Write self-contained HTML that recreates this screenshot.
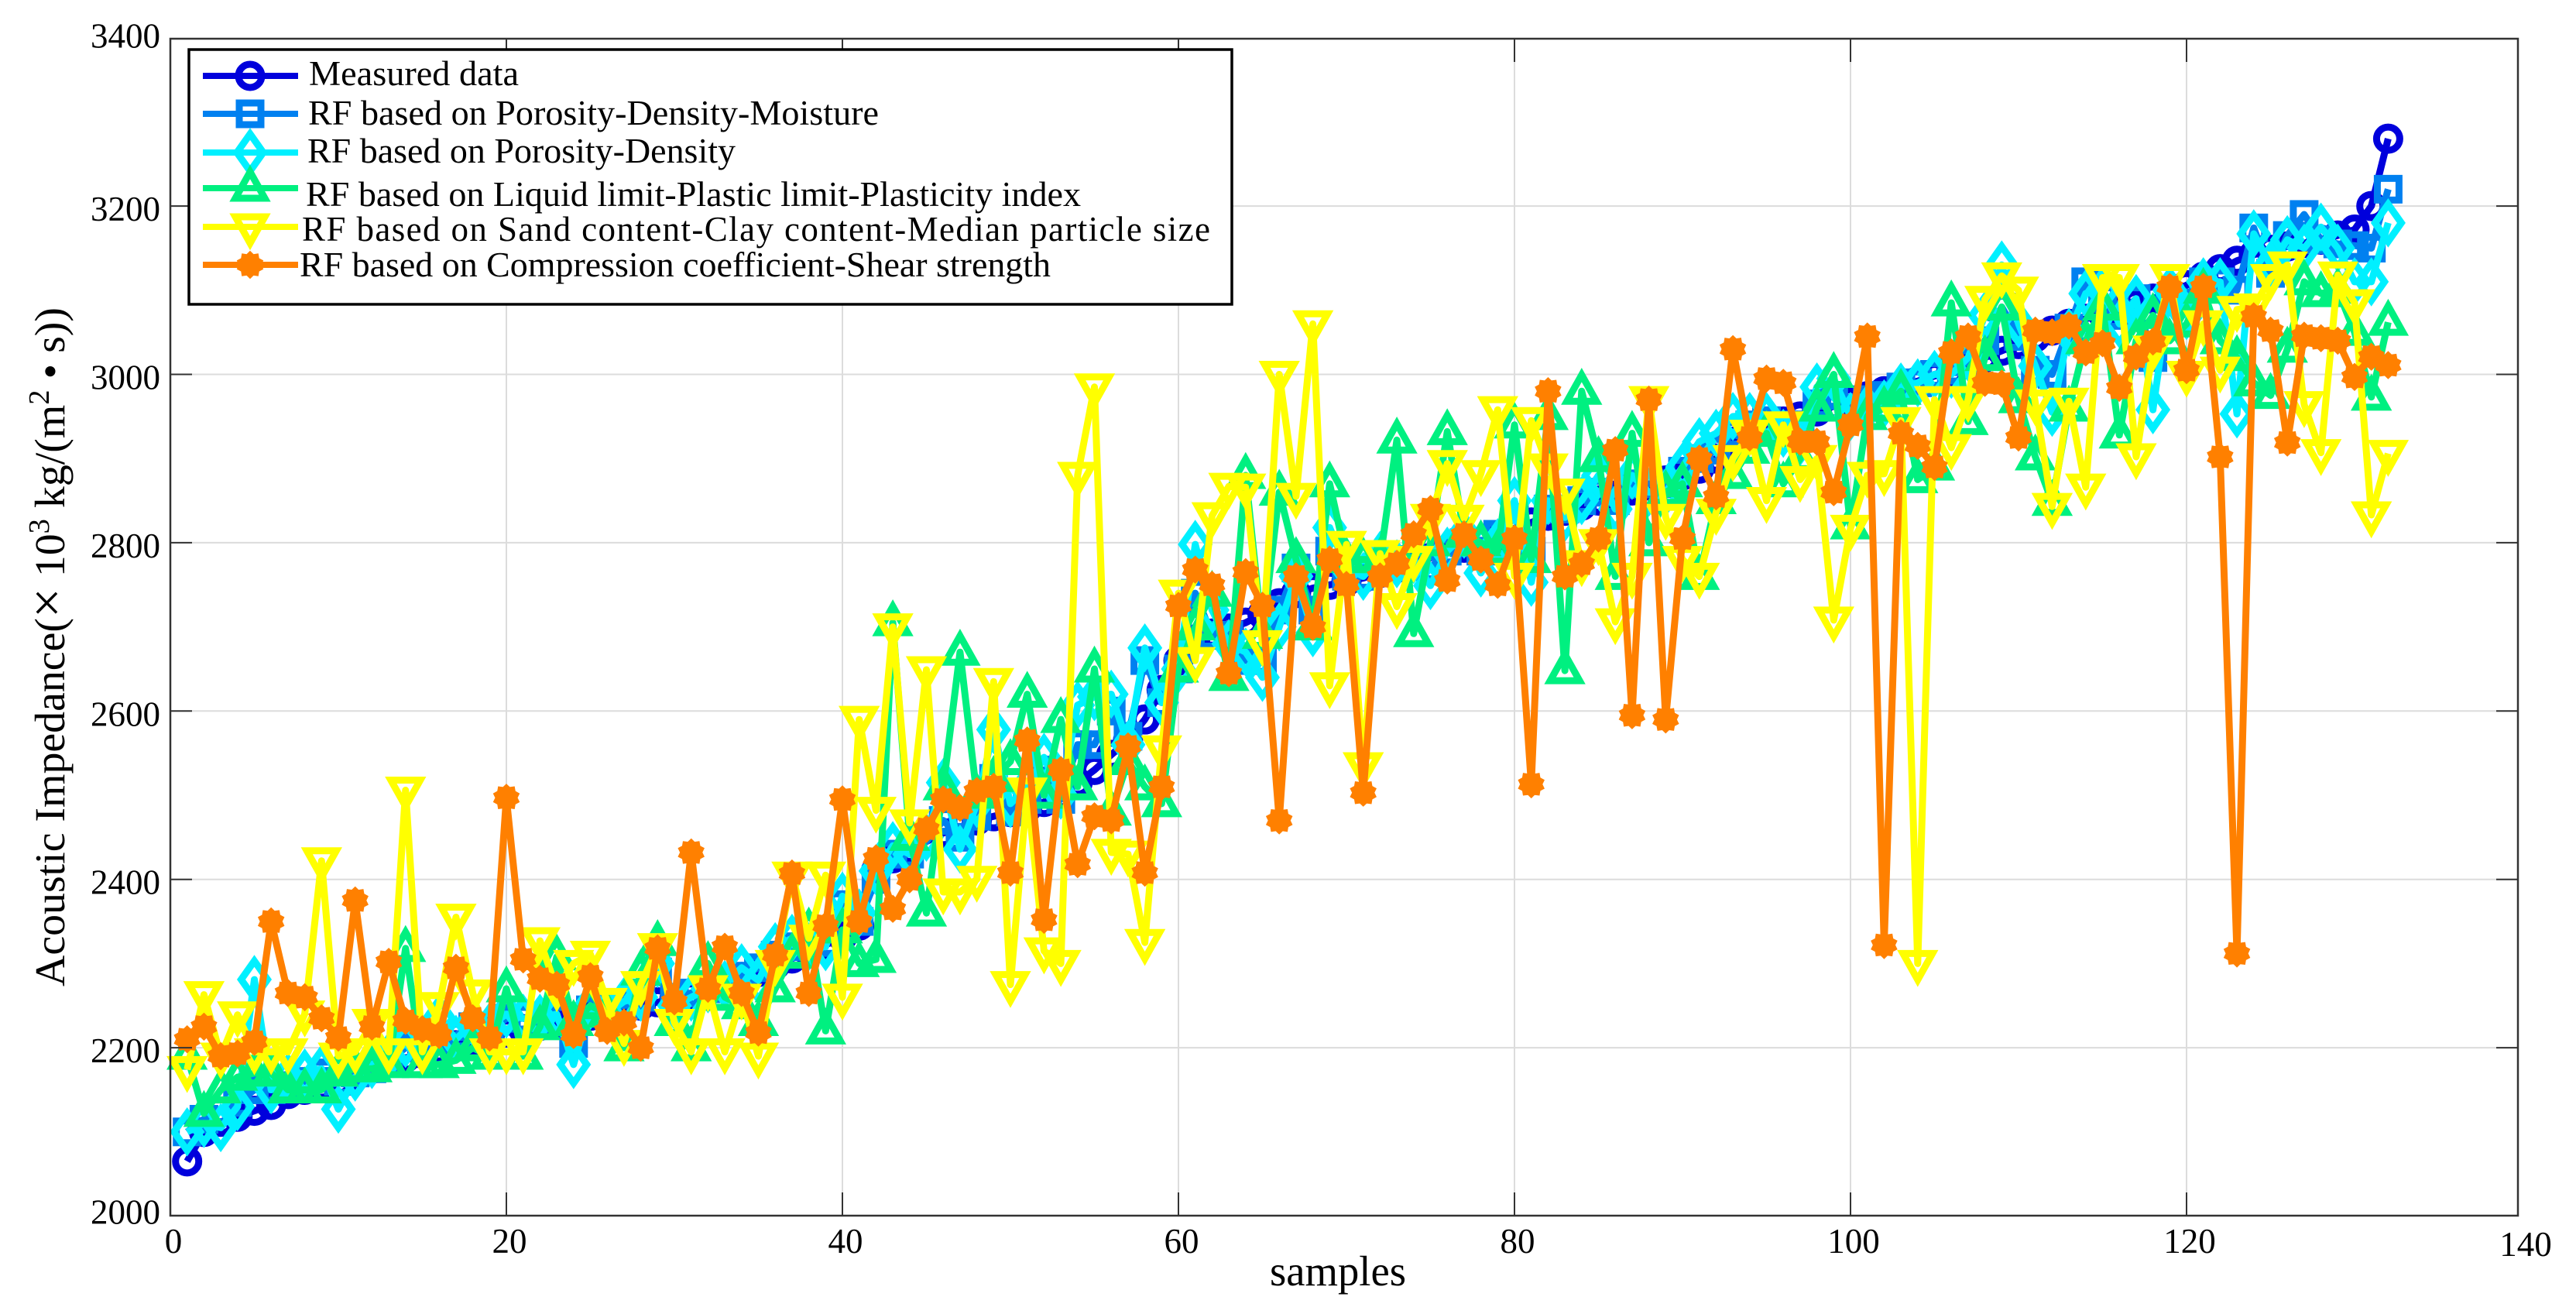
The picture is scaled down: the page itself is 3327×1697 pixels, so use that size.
<!DOCTYPE html>
<html>
<head>
<meta charset="utf-8">
<title>Acoustic Impedance chart</title>
<style>
html,body{margin:0;padding:0;background:#fff;}
svg{display:block;}
text{font-family:"Liberation Serif","Noto Serif CJK SC",serif;fill:#000;}
</style>
</head>
<body>
<svg id="chart" xmlns="http://www.w3.org/2000/svg" width="3327" height="1697" viewBox="0 0 3327 1697">
  <rect x="0" y="0" width="3327" height="1697" fill="#ffffff"/>
  <g id="grid"></g>
  <g id="series"></g>
  <g id="axes"></g>
  <text x="1640" y="1660" font-size="55" textLength="176" lengthAdjust="spacingAndGlyphs">samples</text>
  <text transform="translate(83 1274) rotate(-90)" font-size="55" textLength="877" lengthAdjust="spacingAndGlyphs">Acoustic Impedance(<tspan font-size="68">×</tspan> 10<tspan dy="-20" font-size="38">3</tspan><tspan dy="20"> kg/(m</tspan><tspan dy="-20" font-size="38">2</tspan><tspan dy="20"> • s))</tspan></text>
  <g id="legend">
    <rect x="244" y="64" width="1347" height="329" fill="#ffffff" stroke="#000000" stroke-width="3.5"/>
    <g id="legend-keys"></g>
    <text x="399" y="110" font-size="45" textLength="271" lengthAdjust="spacingAndGlyphs">Measured data</text>
    <text x="398" y="161" font-size="45" textLength="737" lengthAdjust="spacingAndGlyphs">RF based on Porosity-Density-Moisture</text>
    <text x="397" y="210" font-size="45" textLength="553" lengthAdjust="spacingAndGlyphs">RF based on Porosity-Density</text>
    <text x="395" y="266" font-size="45" textLength="1001" lengthAdjust="spacingAndGlyphs">RF based on Liquid limit-Plastic limit-Plasticity index</text>
    <text x="390" y="311" font-size="45" textLength="1173" lengthAdjust="spacing">RF based on Sand content-Clay content-Median particle size</text>
    <text x="387" y="357" font-size="45" textLength="970" lengthAdjust="spacingAndGlyphs">RF based on Compression coefficient-Shear strength</text>
  </g>
</svg>
<script>
const xTicks = [0,20,40,60,80,100,120,140];
const yTicks = [2000,2200,2400,2600,2800,3000,3200,3400];

const measured = [
2065,2100,2112,2118,2125,2132,2145,2150,2155,2160,
2168,2175,2182,2188,2193,2198,2203,2208,2213,2218,
2222,2226,2230,2234,2238,2242,2246,2250,2254,2258,
2262,2268,2276,2284,2290,2298,2306,2314,2322,2332,
2345,2410,2425,2435,2445,2455,2462,2470,2475,2480,
2485,2492,2500,2515,2530,2548,2565,2590,2625,2660,
2685,2692,2698,2705,2715,2728,2740,2746,2750,2754,
2758,2764,2770,2776,2782,2788,2794,2800,2808,2816,
2824,2832,2838,2844,2850,2856,2862,2868,2874,2880,
2888,2900,2920,2930,2938,2944,2950,2956,2962,2968,
2974,2980,2986,2992,2998,3004,3012,3020,3028,3036,
3044,3052,3060,3066,3072,3078,3084,3090,3098,3106,
3116,3125,3135,3142,3148,3152,3156,3160,3165,3172,3200,3280];

const porosityDensityMoisture = [
2100,2115,2125,2135,2150,2150,2155,2160,2170,2160,
2170,2175,2185,2200,2200,2210,2215,2225,2220,2235,
2235,2230,2235,2205,2245,2250,2250,2260,2290,2260,
2265,2270,2275,2285,2295,2310,2320,2320,2325,2370,
2350,2400,2430,2430,2445,2470,2450,2475,2520,2480,
2495,2530,2495,2560,2560,2600,2570,2660,2610,2650,
2740,2690,2690,2660,2660,2720,2770,2720,2790,2760,
2760,2780,2775,2780,2770,2790,2800,2790,2810,2830,
2790,2840,2840,2850,2860,2850,2870,2870,2870,2885,
2900,2910,2930,2940,2945,2940,2940,2965,2975,2960,
2970,2975,2985,2990,3000,3005,3015,3040,3080,3045,
3005,3000,3055,3110,3090,3070,3090,3020,3090,3085,
3110,3110,3100,3174,3120,3165,3190,3160,3155,3153,3150,3220];

const porosityDensity = [
2100,2110,2105,2130,2281,2150,2165,2170,2175,2127,
2165,2180,2190,2205,2200,2235,2210,2230,2225,2240,
2235,2235,2240,2180,2250,2240,2255,2260,2300,2250,
2260,2270,2275,2295,2280,2320,2330,2320,2320,2380,
2360,2410,2440,2430,2450,2515,2436,2490,2578,2490,
2510,2545,2500,2607,2617,2620,2560,2675,2610,2650,
2798,2720,2680,2670,2640,2700,2760,2693,2818,2770,
2760,2785,2775,2780,2749,2790,2810,2764,2800,2850,
2753,2850,2830,2850,2880,2840,2880,2860,2860,2890,
2920,2930,2950,2950,2950,2930,2920,2985,2995,2950,
2960,2965,2985,2990,3000,3000,3020,3070,3130,3060,
3010,2955,3050,3096,3100,3060,3090,2958,3100,3070,
3110,3110,2953,3167,3130,3160,3150,3175,3150,3110,3110,3180];

const liquidPlastic = [
2190,2122,2150,2165,2170,2170,2150,2150,2150,2170,
2175,2175,2180,2318,2180,2180,2185,2200,2190,2270,
2190,2225,2308,2230,2250,2240,2200,2290,2325,2230,
2200,2300,2260,2250,2230,2270,2310,2340,2220,2340,
2300,2305,2705,2450,2360,2510,2670,2500,2520,2540,
2620,2500,2590,2510,2650,2480,2540,2510,2490,2650,
2700,2740,2640,2880,2690,2860,2780,2700,2870,2780,
2780,2780,2922,2692,2800,2932,2810,2800,2790,2940,
2780,2950,2648,2980,2900,2760,2930,2800,2860,2870,
2760,2850,2880,2910,2930,2870,2900,2960,3000,2820,
2950,2960,2980,2875,2890,3085,2944,3020,3080,2970,
2902,2848,2960,3040,3080,2928,3040,3070,3040,3060,
3100,3040,3020,2990,2975,3030,3110,3096,3100,3050,2973,3062];

const sandClay = [
2174,2263,2190,2239,2195,2195,2195,2240,2422,2190,
2195,2230,2195,2506,2195,2250,2355,2265,2195,2195,
2195,2327,2270,2300,2311,2255,2205,2275,2320,2230,
2195,2270,2195,2260,2190,2300,2405,2330,2405,2260,
2590,2482,2700,2467,2649,2385,2385,2400,2635,2275,
2505,2315,2300,2880,2985,2432,2430,2325,2555,2740,
2660,2832,2867,2866,2680,3000,2855,3060,2630,2798,
2535,2787,2724,2780,2830,2894,2829,2882,2958,2760,
2945,2890,2860,2775,2800,2706,2760,2970,2830,2780,
2760,2836,2900,2930,2850,2940,2875,2900,2708,2817,
2880,2882,2945,2300,2970,2913,2970,3089,3117,3100,
2966,2843,2968,2866,3115,3115,2902,3030,3115,3000,
3060,3005,3077,3080,3115,3130,2964,2907,3118,3085,2833,2906];

const compressionShear = [
2210,2225,2190,2193,2207,2350,2265,2260,2235,2212,
2375,2225,2302,2232,2222,2215,2295,2235,2212,2497,
2305,2282,2275,2215,2285,2220,2230,2200,2318,2255,
2432,2270,2320,2265,2218,2310,2407,2265,2345,2495,
2350,2425,2365,2400,2460,2495,2485,2505,2510,2408,
2565,2352,2530,2418,2475,2470,2558,2408,2510,2725,
2768,2750,2645,2765,2725,2470,2760,2700,2780,2750,
2503,2760,2775,2810,2840,2755,2810,2780,2750,2805,
2513,2980,2760,2775,2805,2910,2595,2970,2590,2805,
2900,2855,3030,2925,2995,2990,2920,2920,2860,2940,
3045,2322,2930,2915,2890,3026,3045,2990,2989,2925,
3052,3050,3058,3026,3037,2984,3021,3039,3104,3005,
3104,2902,2312,3069,3052,2919,3046,3043,3040,2997,3021,3011];

const svgNS = 'http://www.w3.org/2000/svg';
const gridLayer = document.getElementById('grid');
const axesLayer = document.getElementById('axes');
const seriesLayer = document.getElementById('series');
const legendKeys = document.getElementById('legend-keys');

const plotLeft = 220, plotRight = 3252, plotTop = 50, plotBottom = 1570;
function xScale(v){ return 220 + v * 21.7; }
function yScale(v){ return 1570.5 - (v - 2000) * 1.087; }

function make(tag, attrs, parent){
  const el = document.createElementNS(svgNS, tag);
  for (const k in attrs) el.setAttribute(k, attrs[k]);
  parent.appendChild(el);
  return el;
}

function starPoints(cx, cy){
  const pts = [];
  for (let k = 0; k < 20; k++){
    const r = k % 2 ? 14 : 17.5;
    const a = Math.PI * k / 10;
    pts.push((cx + r * Math.sin(a)).toFixed(1) + ',' + (cy - r * Math.cos(a)).toFixed(1));
  }
  return pts.join(' ');
}

function drawMarker(kind, cx, cy, color, parent){
  let el;
  if (kind === 'circle'){
    el = make('circle', {cx: cx, cy: cy, r: 15, fill: 'none', stroke: color, 'stroke-width': 9}, parent);
  } else if (kind === 'square'){
    el = make('rect', {x: cx - 14, y: cy - 14, width: 28, height: 28, fill: 'none', stroke: color, 'stroke-width': 9}, parent);
  } else if (kind === 'diamond'){
    el = make('polygon', {points: cx + ',' + (cy - 24) + ' ' + (cx + 17) + ',' + cy + ' ' + cx + ',' + (cy + 24) + ' ' + (cx - 17) + ',' + cy, fill: 'none', stroke: color, 'stroke-width': 9}, parent);
  } else if (kind === 'triUp'){
    el = make('polygon', {points: cx + ',' + (cy - 21) + ' ' + (cx + 19) + ',' + (cy + 13) + ' ' + (cx - 19) + ',' + (cy + 13), fill: 'none', stroke: color, 'stroke-width': 9}, parent);
  } else if (kind === 'triDown'){
    el = make('polygon', {points: cx + ',' + (cy + 21) + ' ' + (cx + 19) + ',' + (cy - 13) + ' ' + (cx - 19) + ',' + (cy - 13), fill: 'none', stroke: color, 'stroke-width': 9}, parent);
  } else {
    el = make('polygon', {points: starPoints(cx, cy), fill: color, stroke: color, 'stroke-width': 1}, parent);
  }
  return el;
}

/* grid and ticks */
xTicks.forEach(function(t){
  const x = xScale(t);
  if (t > 0 && t < 140){
    const g = make('line', {x1: x, x2: x, y1: plotTop, y2: plotBottom, stroke: '#dcdcdc', 'stroke-width': 2}, gridLayer);
    
    
    const b = make('line', {x1: x, x2: x, y1: plotBottom, y2: plotBottom - 30, stroke: '#333', 'stroke-width': 2}, axesLayer);
    
    
    const u = make('line', {x1: x, x2: x, y1: plotTop, y2: plotTop + 30, stroke: '#333', 'stroke-width': 2}, axesLayer);
    
    
  }
  const label = make('text', {x: x + 4, y: t === 140 ? 1622 : 1618, 'font-size': 45, 'text-anchor': 'middle'}, axesLayer);
  label.textContent = String(t);
  
  
});
yTicks.forEach(function(t){
  const y = yScale(t);
  if (t > 2000 && t < 3400){
    const g = make('line', {x1: plotLeft, x2: plotRight, y1: y, y2: y, stroke: '#dcdcdc', 'stroke-width': 2}, gridLayer);
    
    
    const l = make('line', {x1: plotLeft, x2: plotLeft + 28, y1: y, y2: y, stroke: '#333', 'stroke-width': 2}, axesLayer);
    
    
    const r = make('line', {x1: plotRight, x2: plotRight - 28, y1: y, y2: y, stroke: '#333', 'stroke-width': 2}, axesLayer);
    
    
  }
  const off = t === 2000 ? 10 : (t === 3400 ? 13 : 19);
  const label = make('text', {x: 207, y: y + off, 'font-size': 45, 'text-anchor': 'end'}, axesLayer);
  label.textContent = String(t);
  
  
});
const frame = make('rect', {x: plotLeft, y: plotTop, width: plotRight - plotLeft, height: plotBottom - plotTop, fill: 'none', stroke: '#333', 'stroke-width': 2.5}, axesLayer);



/* series */
const seriesList = [
  {key: 'measured', values: measured, color: '#0000dc', marker: 'circle', legendY: 98},
  {key: 'porosity-density-moisture', values: porosityDensityMoisture, color: '#0080f0', marker: 'square', legendY: 147},
  {key: 'porosity-density', values: porosityDensity, color: '#00f0ff', marker: 'diamond', legendY: 197},
  {key: 'liquid-plastic', values: liquidPlastic, color: '#00f080', marker: 'triUp', legendY: 243},
  {key: 'sand-clay', values: sandClay, color: '#ffff00', marker: 'triDown', legendY: 293},
  {key: 'compression-shear', values: compressionShear, color: '#ff8000', marker: 'star', legendY: 342}
];

seriesList.forEach(function(s){
  const group = make('g', {}, seriesLayer);
  
  
  const pts = s.values.map(function(v, i){ return xScale(i + 1).toFixed(1) + ',' + yScale(v).toFixed(1); }).join(' ');
  const line = make('polyline', {points: pts, fill: 'none', stroke: s.color, 'stroke-width': 9, 'stroke-linejoin': 'round'}, group);
  
  
  s.values.forEach(function(v, i){
    const m = drawMarker(s.marker, xScale(i + 1), yScale(v), s.color, group);
    
    
  });

  const key = make('line', {x1: 262, x2: 385, y1: s.legendY, y2: s.legendY, stroke: s.color, 'stroke-width': 8}, legendKeys);
  
  
  const km = drawMarker(s.marker, 323, s.legendY, s.color, legendKeys);
  
  
});
</script>
</body>
</html>
